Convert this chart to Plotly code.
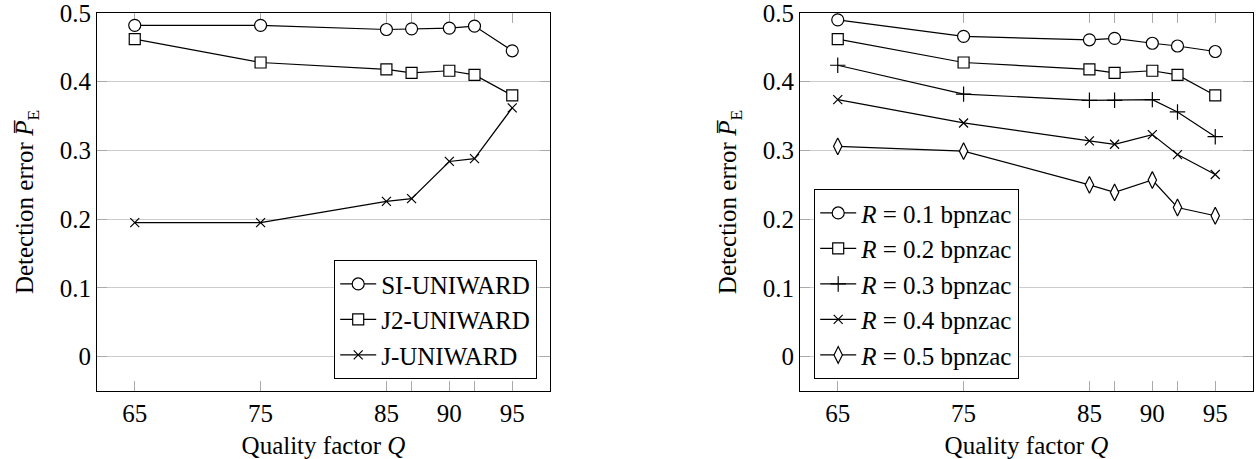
import plotly.graph_objects as go

Q = [65, 75, 85, 87, 90, 92, 95]

# Left panel
si_uniward = [0.482, 0.482, 0.476, 0.477, 0.478, 0.481, 0.445]
j2_uniward = [0.462, 0.428, 0.418, 0.413, 0.416, 0.410, 0.380]
j_uniward = [0.195, 0.195, 0.226, 0.230, 0.284, 0.288, 0.362]

# Right panel
r01 = [0.490, 0.466, 0.461, 0.463, 0.456, 0.452, 0.444]
r02 = [0.462, 0.428, 0.418, 0.413, 0.416, 0.410, 0.380]
r03 = [0.424, 0.382, 0.373, 0.373, 0.374, 0.356, 0.320]
r04 = [0.374, 0.340, 0.314, 0.309, 0.323, 0.294, 0.265]
r05 = [0.306, 0.299, 0.250, 0.239, 0.257, 0.217, 0.205]

left_names = ["SI-UNIWARD", "J2-UNIWARD", "J-UNIWARD"]
right_names = ["<i>R</i> = 0.1 bpnzac", "<i>R</i> = 0.2 bpnzac", "<i>R</i> = 0.3 bpnzac",
               "<i>R</i> = 0.4 bpnzac", "<i>R</i> = 0.5 bpnzac"]

x_tickvals = [65, 75, 85, 87, 90, 92, 95]
x_ticktext = ["65", "75", "85", "", "90", "", "95"]
y_tickvals = [0, 0.1, 0.2, 0.3, 0.4, 0.5]
y_ticktext = ["0", "0.1", "0.2", "0.3", "0.4", "0.5"]

FONT = "Liberation Serif, Times New Roman, serif"
FS = 25
FS_LEG = 25

def marker(sym, size):
    if sym in ("cross-thin", "x-thin"):
        return dict(symbol=sym, size=size, color="black", line=dict(color="black", width=1.2))
    return dict(symbol=sym, size=size, color="white", line=dict(color="black", width=1.2))

fig = go.Figure()

left_sets = [(si_uniward, "circle", 12), (j2_uniward, "square", 11), (j_uniward, "x-thin", 9)]
for (vals, sym, sz), name in zip(left_sets, left_names):
    fig.add_trace(go.Scatter(x=Q, y=vals, name=name, mode="lines+markers",
                             line=dict(color="black", width=1.2), marker=marker(sym, sz),
                             xaxis="x", yaxis="y", legend="legend", cliponaxis=False))

right_sets = [(r01, "circle", 12), (r02, "square", 11), (r03, "cross-thin", 11),
              (r04, "x-thin", 9), (r05, "diamond-tall", 12)]
for (vals, sym, sz), name in zip(right_sets, right_names):
    fig.add_trace(go.Scatter(x=Q, y=vals, name=name, mode="lines+markers",
                             line=dict(color="black", width=1.2), marker=marker(sym, sz),
                             xaxis="x2", yaxis="y2", legend="legend2", cliponaxis=False))

xcommon = dict(range=[62, 98], tickvals=x_tickvals, ticktext=x_ticktext, ticks="inside",
               ticklen=10, tickcolor="#aaaaaa", tickwidth=1, showgrid=False,
               showline=True, linecolor="black", linewidth=1.2, mirror="ticks",
               zeroline=False, automargin=False, ticklabeloverflow="allow",
               layer="below traces",
               tickfont=dict(family=FONT, size=FS, color="black"),
               title=dict(text="Quality factor <i>Q</i>", font=dict(family=FONT, size=FS, color="black"),
                          standoff=12))
ycommon = dict(range=[-0.05, 0.5], tickvals=y_tickvals, ticktext=y_ticktext, ticks="inside",
               ticklen=10, tickcolor="#aaaaaa", tickwidth=1, showgrid=True, gridcolor="#cccccc",
               gridwidth=1, showline=True, linecolor="black", linewidth=1.2, mirror="ticks",
               zeroline=False, automargin=False, ticklabeloverflow="allow",
               layer="below traces",
               tickfont=dict(family=FONT, size=FS, color="black"),
               title=dict(text="Detection error <i>P\u0305</i><sub>E</sub>",
                          font=dict(family=FONT, size=FS, color="black"), standoff=18))

legcommon = dict(bgcolor="white", bordercolor="black", borderwidth=1.2,
                 font=dict(family=FONT, size=FS_LEG, color="black"), tracegroupgap=0,
                 itemwidth=36)

FW, FH = 1260, 459
L, R, T, B = 97, 7, 13, 68
W = FW - L - R
H = FH - T - B

fig.update_layout(
    width=FW, height=FH,
    margin=dict(l=L, r=R, t=T, b=B, autoexpand=False),
    paper_bgcolor="white", plot_bgcolor="white",
    showlegend=True,
    xaxis=dict(domain=[0.0, (550 - L) / W], anchor="y", **xcommon),
    yaxis=dict(domain=[0.0, 1.0], anchor="x", **ycommon),
    xaxis2=dict(domain=[(800 - L) / W, 1.0], anchor="y2", **xcommon),
    yaxis2=dict(domain=[0.0, 1.0], anchor="x2", **ycommon),
    legend=dict(x=(537 - L) / W, y=12 / H, xanchor="right", yanchor="bottom", **legcommon),
    legend2=dict(x=(814 - L) / W, y=12 / H, xanchor="left", yanchor="bottom", **legcommon),
)

# remove the default 8px page margin so the figure sits at the window's top-left corner
fig.write_html("out.html", config={"displayModeBar": False},
               post_script="document.body.style.margin='0';")
